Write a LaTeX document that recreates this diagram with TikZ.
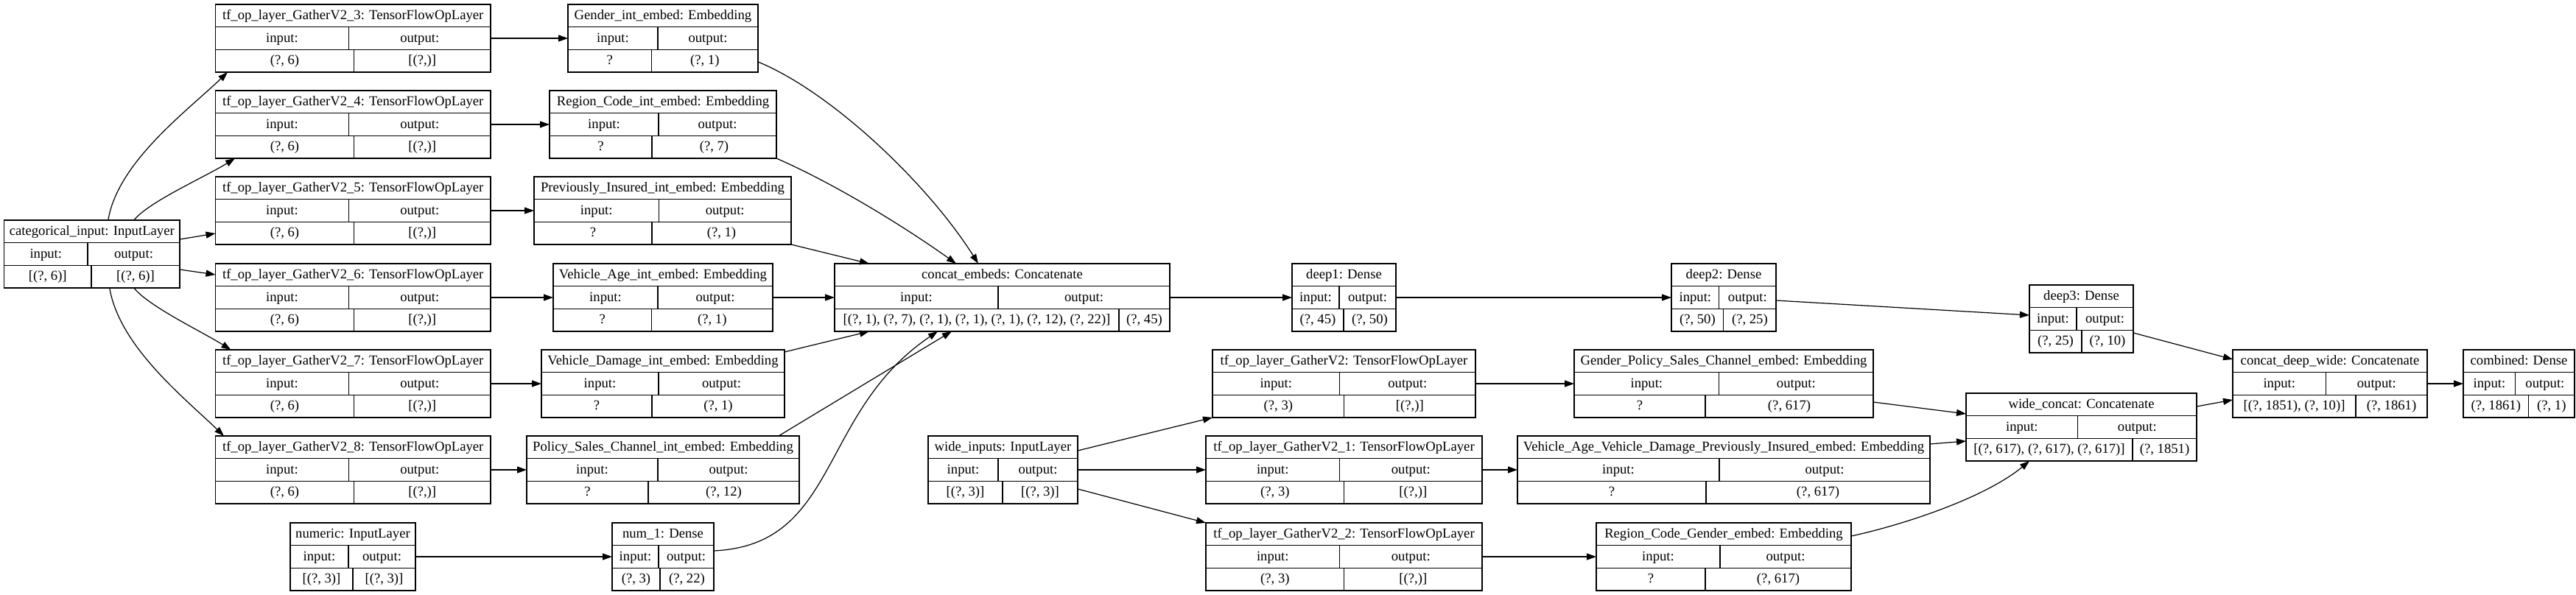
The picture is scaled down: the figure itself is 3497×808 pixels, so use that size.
\documentclass[tikz,border=0pt]{standalone}
\usepackage{fontspec}
\setmainfont{Liberation Serif}
\usetikzlibrary{arrows.meta}

\newcommand{\layerbox}[9]{%
  \node[layer, minimum width={#4-#2}] (#1) at ({(#2+#4)/2},{#3+46}) {};
  \draw[cell] (#2,#3+30.67) -- (#4,#3+30.67) (#2,#3+61.33) -- (#4,#3+61.33)
    (#5,#3+30.67) -- (#5,#3+61.33) (#6,#3+61.33) -- (#6,#3+92);
  \node[lbl] at ({(#2+#4)/2},{#3+20.5}) {#7};
  \node[lbl] at ({(#2+#5)/2},{#3+51.2}) {input:};
  \node[lbl] at ({(#5+#4)/2},{#3+51.2}) {output:};
  \node[lbl] at ({(#2+#6)/2},{#3+81.8}) {#8};
  \node[lbl] at ({(#6+#4)/2},{#3+81.8}) {#9};
}

\begin{document}
\begin{tikzpicture}[x=1pt, y=-1pt,
  layer/.style={draw, line width=1.4pt, minimum height=92pt, inner sep=0pt, outer sep=0pt},
  cell/.style={line width=1.2pt},
  lbl/.style={font=\fontsize{18.67pt}{22pt}\selectfont, anchor=base, inner sep=0pt},
  conn/.style={line width=1.2pt, -{Triangle[length=13pt,width=9pt]}}]
  \useasboundingbox (0,0) rectangle (3497,808);

  \layerbox{cat}{5.6}{299}{244}{119}{124}{categorical\_input: InputLayer}{[(?, 6)]}{[(?, 6)]}
  \layerbox{gath3}{292.5}{6}{666}{473.5}{480.5}{tf\_op\_layer\_GatherV2\_3: TensorFlowOpLayer}{(?, 6)}{[(?,)]}
  \layerbox{gath4}{292.5}{123}{666}{473.5}{480.5}{tf\_op\_layer\_GatherV2\_4: TensorFlowOpLayer}{(?, 6)}{[(?,)]}
  \layerbox{gath5}{292.5}{240}{666}{473.5}{480.5}{tf\_op\_layer\_GatherV2\_5: TensorFlowOpLayer}{(?, 6)}{[(?,)]}
  \layerbox{gath6}{292.5}{358}{666}{473.5}{480.5}{tf\_op\_layer\_GatherV2\_6: TensorFlowOpLayer}{(?, 6)}{[(?,)]}
  \layerbox{gath7}{292.5}{475}{666}{473.5}{480.5}{tf\_op\_layer\_GatherV2\_7: TensorFlowOpLayer}{(?, 6)}{[(?,)]}
  \layerbox{gath8}{292.5}{592}{666}{473.5}{480.5}{tf\_op\_layer\_GatherV2\_8: TensorFlowOpLayer}{(?, 6)}{[(?,)]}

  \layerbox{genderemb}{771}{6}{1029}{893}{884.6}{Gender\_int\_embed: Embedding}{?}{(?, 1)}
  \layerbox{regionemb}{746}{123}{1054}{894}{885}{Region\_Code\_int\_embed: Embedding}{?}{(?, 7)}
  \layerbox{insuredemb}{725}{240}{1074}{894.4}{885}{Previously\_Insured\_int\_embed: Embedding}{?}{(?, 1)}
  \layerbox{ageemb}{751}{358}{1049}{893}{884.6}{Vehicle\_Age\_int\_embed: Embedding}{?}{(?, 1)}
  \layerbox{damageemb}{735}{475}{1065}{894}{885}{Vehicle\_Damage\_int\_embed: Embedding}{?}{(?, 1)}
  \layerbox{channelemb}{715}{592}{1085}{893}{880}{Policy\_Sales\_Channel\_int\_embed: Embedding}{?}{(?, 12)}
  \layerbox{numeric}{394}{710}{564}{473}{479}{numeric: InputLayer}{[(?, 3)]}{[(?, 3)]}
  \layerbox{numone}{831}{710}{969}{894}{896}{num\_1: Dense}{(?, 3)}{(?, 22)}

  \layerbox{concatemb}{1133}{358}{1588}{1355}{1519}{concat\_embeds: Concatenate}{[(?, 1), (?, 7), (?, 1), (?, 1), (?, 1), (?, 12), (?, 22)]}{(?, 45)}
  \layerbox{wide}{1260}{592}{1463}{1355}{1361}{wide\_inputs: InputLayer}{[(?, 3)]}{[(?, 3)]}
  \layerbox{deepone}{1754}{358}{1895}{1818}{1824}{deep1: Dense}{(?, 45)}{(?, 50)}
  \layerbox{gath0}{1646}{475}{2003}{1818.6}{1824.7}{tf\_op\_layer\_GatherV2: TensorFlowOpLayer}{(?, 3)}{[(?,)]}
  \layerbox{gath1}{1637}{592}{2012}{1818.6}{1824.7}{tf\_op\_layer\_GatherV2\_1: TensorFlowOpLayer}{(?, 3)}{[(?,)]}
  \layerbox{gath2}{1637}{710}{2012}{1818.6}{1824.7}{tf\_op\_layer\_GatherV2\_2: TensorFlowOpLayer}{(?, 3)}{[(?,)]}

  \layerbox{deeptwo}{2269}{358}{2411}{2333.7}{2339.8}{deep2: Dense}{(?, 50)}{(?, 25)}
  \layerbox{gpcemb}{2137}{475}{2543}{2333.7}{2315}{Gender\_Policy\_Sales\_Channel\_embed: Embedding}{?}{(?, 617)}
  \layerbox{vavdemb}{2060}{592}{2620}{2334}{2316}{Vehicle\_Age\_Vehicle\_Damage\_Previously\_Insured\_embed: Embedding}{?}{(?, 617)}
  \layerbox{rcgemb}{2167}{710}{2513}{2335}{2315}{Region\_Code\_Gender\_embed: Embedding}{?}{(?, 617)}
  \layerbox{deepthree}{2755}{387}{2896}{2819}{2826}{deep3: Dense}{(?, 25)}{(?, 10)}
  \layerbox{wideconcat}{2669}{534}{2982}{2820.7}{2895}{wide\_concat: Concatenate}{[(?, 617), (?, 617), (?, 617)]}{(?, 1851)}
  \layerbox{deepwide}{3031}{475}{3295}{3157.6}{3198}{concat\_deep\_wide: Concatenate}{[(?, 1851), (?, 10)]}{(?, 1861)}
  \layerbox{combined}{3344}{475}{3495}{3414.8}{3432.5}{combined: Dense}{(?, 1861)}{(?, 1)}

  % categorical input fans out
  \draw[conn] ([xshift=22pt]cat.north) .. controls +(13,-79) and +(-54,52) .. ([xshift=16.5pt]gath3.south west);
  \draw[conn] ([xshift=57pt]cat.north) .. controls +(20,-25) and +(-40,25) .. ([xshift=26.5pt]gath4.south west);
  \draw[conn] ([yshift=20pt]cat.east) -- ([yshift=-31pt]gath5.west);
  \draw[conn] ([yshift=-21pt]cat.east) -- ([yshift=31pt]gath6.west);
  \draw[conn] ([xshift=57pt]cat.south) .. controls +(20,25) and +(-40,-25) .. ([xshift=21pt]gath7.north west);
  \draw[conn] ([xshift=24pt]cat.south) .. controls +(13,79) and +(-54,-52) .. ([xshift=11.5pt]gath8.north west);

  \draw[conn] (gath3) -- (genderemb);
  \draw[conn] (gath4) -- (regionemb);
  \draw[conn] (gath5) -- (insuredemb);
  \draw[conn] (gath6) -- (ageemb);
  \draw[conn] (gath7) -- (damageemb);
  \draw[conn] (gath8) -- (channelemb);
  \draw[conn] (numeric) -- (numone);

  % into concat_embeds
  \draw[conn] ([yshift=-32pt]genderemb.east) .. controls +(100,41) and +(-68,-108) .. ([xshift=195pt]concatemb.north west);
  \draw[conn] (regionemb.south east) .. controls +(80,35) and +(-70,-50) .. ([xshift=165pt]concatemb.north west);
  \draw[conn] (insuredemb.south east) -- ([xshift=47pt]concatemb.north west);
  \draw[conn] (ageemb) -- (concatemb);
  \draw[conn] ([yshift=-3pt]damageemb.north east) -- ([xshift=47pt]concatemb.south west);
  \draw[conn] ([xshift=-28pt]channelemb.north east) -- ([xshift=159pt]concatemb.south west);
  \draw[conn] ([yshift=8pt]numone.east) .. controls +(171,-8) and +(-163,110) .. ([xshift=140pt]concatemb.south west);

  \draw[conn] (concatemb) -- (deepone);
  \draw[conn] (deepone) -- (deeptwo);
  \draw[conn] ([yshift=-4pt]deeptwo.east) -- ([yshift=5pt]deepthree.west);
  \draw[conn] ([yshift=-19pt]deepthree.east) -- ([yshift=33pt]deepwide.west);

  % wide branch
  \draw[conn] ([yshift=26pt]wide.east) -- (gath0.south west);
  \draw[conn] (wide) -- (gath1);
  \draw[conn] ([yshift=-26pt]wide.east) -- (gath2.north west);
  \draw[conn] (gath0) -- (gpcemb);
  \draw[conn] (gath1) -- (vavdemb);
  \draw[conn] (gath2) -- (rcgemb);
  \draw[conn] ([yshift=-25pt]gpcemb.east) -- ([yshift=18pt]wideconcat.west);
  \draw[conn] ([yshift=35pt]vavdemb.east) -- ([yshift=-19pt]wideconcat.west);
  \draw[conn] ([yshift=28pt]rcgemb.east) .. controls +(70,-15) and +(-60,50) .. ([xshift=86pt]wideconcat.south west);
  \draw[conn] ([yshift=28pt]wideconcat.east) -- ([yshift=-22pt]deepwide.west);
  \draw[conn] (deepwide) -- (combined);
\end{tikzpicture}
\end{document}
